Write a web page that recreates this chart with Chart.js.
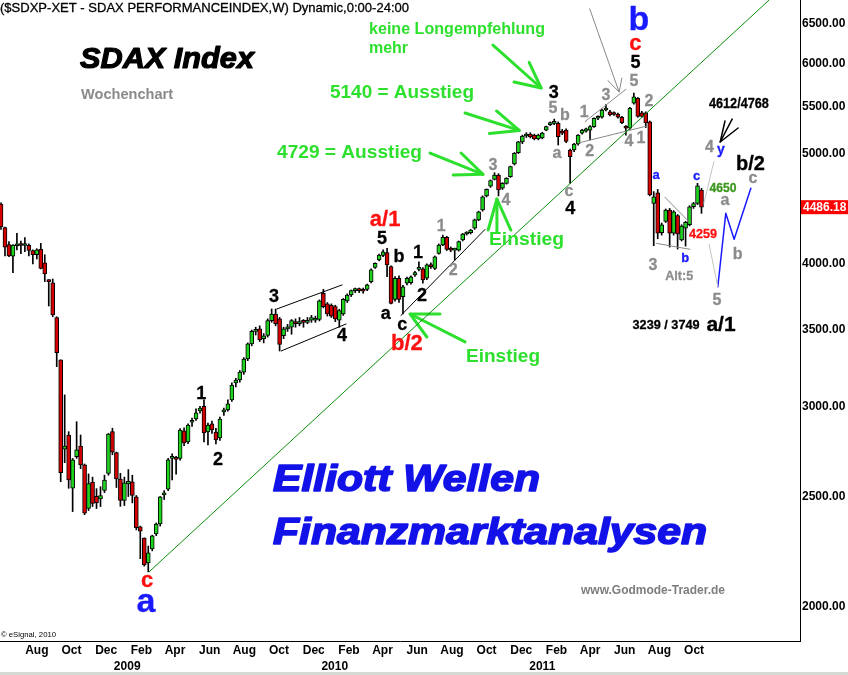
<!DOCTYPE html>
<html>
<head>
<meta charset="utf-8">
<script src="https://cdn.jsdelivr.net/npm/chart.js@4/dist/chart.umd.min.js"></script>
<style>
html,body{margin:0;padding:0;background:#fff;}
canvas{display:block;}
</style>
</head>
<body>
<canvas id="c" width="848" height="675"></canvas>
<script>
// ---------------- DATA (weekly SDAX candles, first bar = week of 30 May 2008) ----------------
const opens = [4515,4305,4160,4063,4150,4158,4152,4153,4110,4075,
4120,4010,3870,3850,3590,3295,2751,2831,2542,2710,
2769,2665,2441,2574,2501,2488,2531,2620,2850,2732,
2590,2480,2565,2575,2498,2351,2299,2186,2249,2318,
2365,2508,2538,2700,2700,2700,2855,2792,2905,2924,
2972,3000,2848,2895,2848,2814,2966,2978,3039,3145,
3164,3215,3301,3403,3490,3508,3440,3462,3567,3615,
3580,3460,3508,3520,3560,3545,3560,3555,3570,3570,
3575,3770,3690,3680,3670,3570,3615,3712,3757,3790,
3795,3790,3800,3859,3973,4032,4070,4092,3978,3724,
3886,3744,3847,3852,3912,3957,3960,3886,3980,3965,
4087,4156,4221,4128,4114,4114,4199,4250,4261,4299,
4372,4461,4589,4682,4746,4788,4661,4708,4772,4895,
5010,5120,5180,5200,5190,5150,5159,5243,5300,5315,
5315,5230,5243,5036,5036,5097,5210,5230,5243,5279,
5370,5380,5460,5440,5420,5415,5380,5279,5262,5535,
5590,5430,5430,5330,4521,4619,4260,4360,4461,4256,
4410,4199,4300,4330,4490,4520,4645];
const highs = [4525,4310,4185,4160,4255,4190,4220,4165,4115,4125,
4170,4075,3875,3880,3595,3295,3070,2850,2700,2908,
2831,2670,2617,2600,2540,2550,2610,2840,2870,2735,
2620,2600,2640,2610,2505,2355,2300,2262,2312,2370,
2500,2530,2700,2725,2712,2868,2872,2895,2930,2985,
3000,3039,2900,2912,2870,2935,2990,3040,3145,3175,
3225,3310,3410,3500,3520,3530,3475,3580,3652,3652,
3590,3520,3540,3575,3580,3590,3575,3590,3605,3600,
3720,3800,3700,3690,3680,3650,3730,3765,3795,3810,
3810,3810,3840,3960,4010,4080,4115,4128,3985,3900,
3905,3830,3895,3905,3940,4018,3970,4000,4010,4065,
4165,4240,4230,4140,4130,4190,4255,4270,4290,4380,
4450,4590,4655,4740,4810,4800,4715,4762,4875,5010,
5125,5190,5215,5215,5200,5200,5220,5285,5330,5360,
5330,5250,5255,5045,5105,5195,5250,5265,5290,5375,
5395,5470,5520,5455,5440,5425,5390,5290,5490,5650,
5600,5445,5440,5340,4630,4650,4345,4470,4475,4455,
4420,4330,4360,4500,4530,4708,4660];
const lows = [4290,4065,4060,3930,4115,4085,4100,4065,4000,4040,
3960,3860,3674,3595,3250,2576,2677,2542,2425,2700,
2645,2410,2430,2450,2440,2450,2520,2610,2720,2546,
2451,2455,2500,2468,2337,2205,2172,2147,2240,2310,
2355,2485,2530,2585,2615,2690,2770,2782,2880,2915,
2958,2792,2775,2840,2780,2800,2945,2970,3030,3120,
3150,3200,3290,3390,3465,3420,3410,3450,3555,3530,
3355,3440,3490,3470,3520,3530,3520,3545,3555,3555,
3565,3660,3600,3590,3560,3520,3605,3700,3745,3775,
3775,3770,3790,3850,3965,4025,4060,3898,3690,3710,
3700,3615,3835,3840,3900,3945,3847,3875,3965,3955,
4080,4150,4110,4100,4032,4105,4190,4240,4250,4290,
4365,4450,4580,4670,4740,4589,4650,4700,4765,4885,
5000,5100,5165,5160,5140,5140,5150,5235,5290,5300,
5087,5195,5110,4708,5020,5085,5200,5220,5139,5270,
5355,5370,5450,5395,5400,5370,5310,5190,5250,5525,
5380,5380,5270,4590,4150,4209,4240,4350,4139,4240,
4122,4190,4147,4320,4475,4510,4431];
const closes = [4310,4138,4065,4155,4158,4152,4156,4110,4075,4115,
3965,3920,3860,3608,3343,2624,2769,2585,2692,2747,
2665,2417,2566,2466,2468,2505,2585,2836,2735,2590,
2480,2570,2578,2505,2347,2331,2177,2231,2309,2365,
2498,2518,2692,2708,2695,2860,2786,2889,2912,2960,
2990,2843,2889,2860,2803,2924,2978,3015,3132,3164,
3215,3301,3403,3490,3500,3431,3460,3567,3615,3545,
3400,3508,3520,3567,3545,3560,3555,3570,3590,3580,
3712,3670,3615,3600,3580,3640,3724,3757,3790,3800,
3790,3785,3834,3952,4005,4073,4100,3992,3694,3886,
3724,3820,3886,3898,3930,3965,3873,3992,3978,4059,
4156,4221,4120,4114,4120,4184,4250,4261,4284,4372,
4445,4582,4651,4733,4788,4645,4708,4756,4869,5002,
5120,5180,5200,5170,5150,5190,5212,5279,5315,5322,
5173,5210,5123,4968,5097,5190,5243,5255,5279,5369,
5380,5460,5482,5405,5410,5380,5322,5262,5478,5608,
5390,5390,5320,4598,4582,4256,4330,4461,4256,4445,
4250,4318,4350,4490,4520,4685,4486.18];
const weeks = closes.map((_, i) => i);          // category: week number
const yTickValues = [2000, 2500, 3000, 3500, 4000, 5000, 5500, 6000, 6500];
const monthNames = ['Jan','Feb','Mar','Apr','May','Jun','Jul','Aug','Sep','Oct','Nov','Dec'];
const yearLabels = [2009, 2010, 2011];

// ---------------- helpers ----------------
const START = Date.UTC(2008, 4, 30);
const WEEK = 7 * 24 * 3600 * 1000;
const weekPos = (y, m, d) => (Date.UTC(y, m, d) - START) / WEEK;
const axisTicks = [];
for (let y = 2008, m = 7; y < 2011 || (y === 2011 && m <= 9);) {
  axisTicks.push({ value: weekPos(y, m, 1), label: monthNames[m] });
  m += 2; if (m > 11) { m -= 12; y++; }
}
yearLabels.forEach(y => axisTicks.push({ value: weekPos(y, 0, 7), label: ['', String(y)] }));
axisTicks.sort((a, b) => a.value - b.value);

const SANS = 'Arial, "Liberation Sans", sans-serif';
const NARROW = '"Liberation Sans Narrow", "Arial Narrow", Arial, "Liberation Sans", sans-serif';
const GREEN = '#2ee02e', GRAY = '#8c8c8c', RED = '#ff1010', BLUE = '#1a1aff', BLACK = '#000';

// annotation lines in (week, price) coordinates
const annoLines = [
  { pts: [[37.2, 2147], [193, 6819]], color: '#0a8f0a', w: 1 },
  { pts: [[69.3, 3652], [85.7, 3834]], color: BLACK, w: 1 },
  { pts: [[70.4, 3355], [86.7, 3543]], color: BLACK, w: 1 },
  { pts: [[100.5, 3605], [121.6, 4289]], color: BLACK, w: 1 },
  { pts: [[147.9, 6701], [155.3, 5662]], color: '#888', w: 1 },
  { pts: [[152.5, 5793], [155.3, 5662], [156, 5824]], color: '#888', w: 1 },
  { pts: [[146.7, 5332], [157, 5693]], color: '#888', w: 1 },
  { pts: [[145, 5107], [162.3, 5286]], color: '#888', w: 1 },
  { pts: [[166.8, 4577], [172.9, 4356]], color: '#888', w: 1 },
  { pts: [[164.7, 4170], [173.1, 4120]], color: '#888', w: 1 },
  { pts: [[176.6, 4521], [179.1, 4918]], color: '#c4c4c4', w: 1 },
  { pts: [[177.9, 4164], [180.1, 3820]], color: '#c4c4c4', w: 1 },
  { pts: [[180.1, 3820], [182.1, 4431], [184.2, 4204], [188.4, 4661]], color: BLUE, w: 1.5 },
  { pts: [[183.7, 5361], [180.7, 5118]], color: BLACK, w: 1.5 },
  { pts: [[181.9, 5340], [180.7, 5118], [185.2, 5265]], color: BLACK, w: 1.5 },
  { pts: [[123.6, 6226], [135.7, 5708]], color: GREEN, w: 3 },
  { pts: [[132.7, 6011], [135.7, 5708], [128.9, 5777]], color: GREEN, w: 3 },
  { pts: [[116.6, 5427], [130.2, 5239]], color: GREEN, w: 3 },
  { pts: [[124.5, 5449], [130.2, 5239], [122.7, 5207]], color: GREEN, w: 3 },
  { pts: [[107.8, 5005], [121.1, 4794]], color: GREEN, w: 3 },
  { pts: [[115.6, 5005], [121.1, 4794], [113.6, 4788]], color: GREEN, w: 3 },
  { pts: [[122.4, 4284], [124.6, 4561], [128.1, 4284]], color: GREEN, w: 3 },
  { pts: [[124.6, 4561], [124.6, 4267]], color: GREEN, w: 3 },
  { pts: [[116.6, 3417], [102.8, 3615]], color: GREEN, w: 3 },
  { pts: [[110.3, 3615], [102.8, 3615], [107, 3451]], color: GREEN, w: 3 }
];

// wave labels in (week, price) coordinates
const waveLabels = [
  { t: 'c', wk: 36.7, v: 2108, s: 22, c: RED },
  { t: 'a', wk: 36.4, v: 2016, s: 34, c: BLUE },
  { t: '1', wk: 50.3, v: 3076, s: 18, c: BLACK },
  { t: '2', wk: 54.5, v: 2692, s: 18, c: BLACK },
  { t: '3', wk: 68.6, v: 3742, s: 18, c: BLACK },
  { t: '4', wk: 85.7, v: 3458, s: 18, c: BLACK },
  { t: 'a/1', wk: 96.5, v: 4376, s: 22, c: RED },
  { t: '5', wk: 95.7, v: 4207, s: 18, c: BLACK },
  { t: 'b', wk: 100, v: 4057, s: 18, c: BLACK },
  { t: '1', wk: 104.8, v: 4090, s: 18, c: BLACK },
  { t: 'a', wk: 96.7, v: 3615, s: 18, c: BLACK },
  { t: 'c', wk: 100.8, v: 3536, s: 18, c: BLACK },
  { t: '2', wk: 105.8, v: 3749, s: 18, c: BLACK },
  { t: 'b/2', wk: 102, v: 3403, s: 22, c: RED },
  { t: '1', wk: 110.6, v: 4310, s: 16, c: GRAY },
  { t: '2', wk: 113.6, v: 3943, s: 16, c: GRAY },
  { t: '3', wk: 123.6, v: 4876, s: 16, c: GRAY },
  { t: '4', wk: 126.9, v: 4543, s: 16, c: GRAY },
  { t: '3', wk: 138.9, v: 5656, s: 18, c: BLACK },
  { t: '5', wk: 138.7, v: 5476, s: 16, c: GRAY },
  { t: 'b', wk: 141.7, v: 5394, s: 16, c: GRAY },
  { t: 'a', wk: 139.7, v: 4995, s: 16, c: GRAY },
  { t: 'c', wk: 142.7, v: 4626, s: 16, c: GRAY },
  { t: '4', wk: 143, v: 4470, s: 18, c: BLACK },
  { t: '1', wk: 146.5, v: 5427, s: 16, c: GRAY },
  { t: '2', wk: 147.9, v: 5021, s: 16, c: GRAY },
  { t: '3', wk: 152, v: 5616, s: 16, c: GRAY },
  { t: '4', wk: 157.8, v: 5118, s: 16, c: GRAY },
  { t: '1', wk: 160.8, v: 5153, s: 16, c: GRAY },
  { t: '5', wk: 159, v: 5777, s: 16, c: GRAY },
  { t: '5', wk: 159.4, v: 6004, s: 18, c: BLACK },
  { t: 'c', wk: 159.4, v: 6239, s: 22, c: RED },
  { t: 'b', wk: 160.3, v: 6539, s: 34, c: BLUE },
  { t: '2', wk: 162.8, v: 5549, s: 16, c: GRAY },
  { t: 'a', wk: 164.6, v: 4788, s: 13, c: BLUE },
  { t: 'c', wk: 174.8, v: 4773, s: 13, c: BLUE },
  { t: 'b', wk: 171.9, v: 4048, s: 13, c: BLUE },
  { t: '3', wk: 163.8, v: 3984, s: 16, c: GRAY },
  { t: 'Alt:5', wk: 170.4, v: 3904, s: 13, c: GRAY, w: 28 },
  { t: '4612/4768', wk: 185.4, v: 5520, s: 14, c: BLACK, w: 60 },
  { t: '4', wk: 178, v: 5060, s: 16, c: GRAY },
  { t: 'y', wk: 180.9, v: 5036, s: 14, c: BLUE },
  { t: 'b/2', wk: 188.3, v: 4891, s: 20, c: BLACK },
  { t: 'c', wk: 188.9, v: 4753, s: 16, c: GRAY },
  { t: 'a', wk: 181.9, v: 4543, s: 16, c: GRAY },
  { t: 'b', wk: 185.1, v: 4073, s: 16, c: GRAY },
  { t: '5', wk: 179.9, v: 3715, s: 16, c: GRAY },
  { t: '4650', wk: 181.4, v: 4659, s: 13, c: '#3c961e', w: 27 },
  { t: '4259', wk: 176.4, v: 4245, s: 13, c: RED, w: 28 },
  { t: '3239 / 3749', wk: 167.1, v: 3536, s: 13, c: BLACK, w: 67 },
  { t: 'a/1', wk: 180.9, v: 3536, s: 21, c: BLACK }
];

// free texts (pixel placed, left x / middle y / target width / extra stroke weight)
const freeTexts = [
  { t: '($SDXP-XET - SDAX PERFORMANCEINDEX,W) Dynamic,0:00-24:00', x: 0, y: 8, w: 409, f: '13px ' + SANS, c: BLACK, sw: 0.3 },
  { t: 'SDAX Index', x: 80, y: 60, w: 174, f: 'italic bold 30px ' + SANS, c: BLACK, sw: 1.2 },
  { t: 'Wochenchart', x: 81, y: 95, w: 92, f: 'bold 14px ' + SANS, c: '#8a8a8a' },
  { t: 'keine Longempfehlung', x: 369, y: 30, w: 176, f: 'bold 16px ' + SANS, c: GREEN },
  { t: 'mehr', x: 369, y: 48.6, w: 39, f: 'bold 16px ' + SANS, c: GREEN },
  { t: '5140 = Ausstieg', x: 330, y: 92.5, w: 144, f: 'bold 19px ' + SANS, c: GREEN },
  { t: '4729 = Ausstieg', x: 277, y: 152.8, w: 145, f: 'bold 19px ' + SANS, c: GREEN },
  { t: 'Einstieg', x: 489, y: 240, w: 75, f: 'bold 19px ' + SANS, c: GREEN },
  { t: 'Einstieg', x: 466, y: 357, w: 74, f: 'bold 19px ' + SANS, c: GREEN },
  { t: 'Elliott Wellen', x: 273, y: 481, w: 267, f: 'italic bold 36px ' + SANS, c: '#1212e8', sw: 1.6 },
  { t: 'Finanzmarktanalysen', x: 273, y: 534, w: 434, f: 'italic bold 36px ' + SANS, c: '#1212e8', sw: 1.6 },
  { t: 'www.Godmode-Trader.de', x: 581, y: 590.6, w: 144, f: 'bold 13px ' + SANS, c: '#7d7d7d' },
  { t: '\u00a9 eSignal, 2010', x: 1, y: 635, w: 55, f: '8px ' + SANS, c: BLACK }
];

function drawText(ctx, text, font, color, px, py, align, width, strokeW) {
  ctx.save();
  ctx.font = font;
  ctx.fillStyle = color;
  ctx.textBaseline = 'middle';
  ctx.textAlign = align;
  const m = ctx.measureText(text).width;
  const sx = width ? width / m : 1;
  ctx.translate(px, py);
  ctx.scale(sx, 1);
  ctx.fillText(text, 0, 0);
  if (strokeW) {
    ctx.strokeStyle = color;
    ctx.lineWidth = strokeW;
    ctx.lineJoin = 'round';
    ctx.strokeText(text, 0, 0);
  }
  ctx.restore();
}

const overlay = {
  id: 'overlay',
  afterDatasetsDraw(chart) {
    const { ctx } = chart;
    const xs = chart.scales.x, ys = chart.scales.y;
    freeTexts.forEach(o => drawText(ctx, o.t, o.f, o.c, o.x, o.y, 'left', o.w, o.sw));
    waveLabels.forEach(o => drawText(ctx, o.t, 'bold ' + o.s + 'px ' + (o.w ? NARROW : SANS), o.c,
      xs.getPixelForValue(o.wk), ys.getPixelForValue(o.v), 'center', o.w, 0.3));
  },
  afterDraw(chart) {
    const { ctx, chartArea } = chart;
    const ys = chart.scales.y;
    const last = closes[closes.length - 1];
    const py = ys.getPixelForValue(last);
    ctx.save();
    ctx.fillStyle = '#ff0000';
    ctx.fillRect(chartArea.right + 1, py - 7, 47, 14);
    ctx.fillStyle = '#fff';
    ctx.font = 'bold 12px ' + SANS;
    ctx.textBaseline = 'middle';
    ctx.textAlign = 'left';
    ctx.fillText(last.toFixed(2), chartArea.right + 3, py + 0.5);
    ctx.fillStyle = '#d3dbd3';
    ctx.fillRect(0, 672, 848, 3);
    ctx.restore();
  }
};

// ---------------- datasets ----------------
const wickSet = {
  type: 'bar', order: 2, grouped: false,
  data: weeks.map(i => ({ x: i, y: [lows[i], highs[i]] })),
  backgroundColor: '#000', borderWidth: 0, barThickness: 1
};
const bodySet = {
  type: 'bar', order: 1, grouped: false,
  data: weeks.map(i => ({ x: i, y: [opens[i], closes[i]] })),
  backgroundColor: weeks.map(i => closes[i] >= opens[i] ? '#1ed31e' : '#d40000'),
  borderColor: '#000', borderWidth: 1, borderSkipped: false,
  barThickness: 4, minBarLength: 2
};
const lineSets = annoLines.map(l => ({
  type: 'line', order: 0,
  data: l.pts.map(p => ({ x: p[0], y: p[1] })),
  borderColor: l.color, borderWidth: l.w, pointRadius: 0, fill: false, tension: 0,
  borderCapStyle: 'round', borderJoinStyle: 'round'
}));

new Chart(document.getElementById('c'), {
  type: 'bar',
  data: { datasets: [wickSet, bodySet, ...lineSets] },
  options: {
    responsive: false,
    devicePixelRatio: 1,
    animation: false,
    events: [],
    layout: { padding: 0 },
    plugins: { legend: { display: false }, tooltip: { enabled: false }, title: { display: false } },
    scales: {
      x: {
        type: 'linear', position: 'bottom', min: -0.25, max: 200.75, offset: false, bounds: 'data',
        grid: { display: false, drawTicks: false },
        border: { display: true, color: '#000', width: 1 },
        afterBuildTicks: s => { s.ticks = axisTicks.map(t => ({ value: t.value })); },
        ticks: {
          autoSkip: false, maxRotation: 0, minRotation: 0, padding: 2, color: '#000',
          font: { family: NARROW, size: 12, weight: 'bold', lineHeight: 16 / 12 },
          callback: (v, i) => axisTicks[i] ? axisTicks[i].label : ''
        },
        afterFit: s => { s.height = 34; s.paddingLeft = 0; s.paddingRight = 0; }
      },
      y: {
        type: 'logarithmic', position: 'right', min: 1867, max: 6819, bounds: 'data',
        grid: { display: false, drawTicks: false },
        border: { display: true, color: '#000', width: 1 },
        afterBuildTicks: s => { s.ticks = yTickValues.map(v => ({ value: v })); },
        ticks: {
          autoSkip: false, padding: 2, color: '#000',
          font: { family: SANS, size: 12, weight: 'bold' },
          callback: v => Number(v).toFixed(2)
        },
        afterFit: s => { s.width = 48; s.paddingTop = 0; s.paddingBottom = 0; }
      }
    }
  },
  plugins: [overlay]
});
</script>
</body>
</html>
